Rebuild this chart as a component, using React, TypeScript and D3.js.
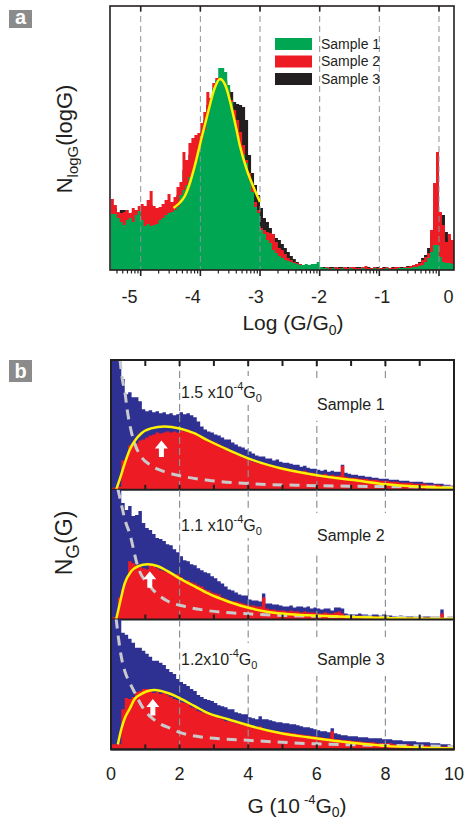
import React from "react";
import * as d3 from "d3";

const FONT = "'Liberation Sans', Arial, Helvetica, sans-serif";
const INK = "#231f20";
const GREEN = "#00a651";
const RED = "#ed1c24";
const BLACK = "#231f20";
const BLUE = "#2e3192";
const YELLOW = "#fff200";
const GRID = "#8a9299";
const DECAY = "#c9cacc";

// ---------------- Panel a : log histograms ----------------
const logBinStart = -5.5;
const logBinWidth = 0.05;
const sample1Log = [
  56, 56, 52, 48, 45, 50, 52, 48, 55, 59,
  50, 44, 46, 44, 45, 46, 50, 52, 55, 57,
  58, 60, 63, 75, 80, 85, 93, 98, 108, 120,
  130, 140, 155, 170, 182, 190, 202, 202, 198, 185,
  168, 150, 135, 123, 115, 107, 90, 78, 63, 57,
  40, 36, 30, 27, 20, 17, 14, 12, 10, 9,
  8, 7, 6, 5, 5, 6, 5, 6, 6, 8,
  3, 2, 2, 1, 2, 1, 1, 2, 1, 1,
  2, 1, 1, 1, 2, 1, 1, 1, 2, 1,
  1, 1, 2, 1, 1, 1, 2, 2, 2, 2,
  2, 3, 3, 4, 5, 8, 12, 18, 25, 25,
  13, 8, 7, 7, 6,
];
const sample2Log = [
  71, 65, 58, 57, 58, 60, 57, 62, 60, 64,
  66, 64, 70, 79, 64, 62, 63, 66, 70, 76,
  68, 73, 83, 88, 118, 110, 127, 132, 135, 137,
  147, 158, 178, 172, 187, 192, 193, 195, 190, 180,
  170, 160, 150, 138, 125, 110, 97, 85, 68, 60,
  42, 40, 38, 37, 36, 28, 22, 20, 16, 12,
  10, 8, 7, 6, 5, 4, 4, 3, 3, 2,
  3, 2, 3, 2, 2, 3, 2, 2, 3, 2,
  3, 3, 2, 2, 3, 4, 2, 2, 3, 2,
  2, 2, 3, 2, 2, 3, 3, 2, 3, 3,
  4, 5, 6, 7, 10, 13, 17, 40, 87, 118,
  58, 45, 28, 36, 30,
];
const sample3Log = [
  60, 62, 55, 60, 60, 55, 52, 58, 55, 60,
  60, 58, 62, 65, 58, 56, 58, 60, 64, 68,
  64, 66, 75, 82, 100, 105, 115, 122, 128, 130,
  140, 150, 165, 168, 178, 185, 190, 192, 188, 180,
  178, 168, 166, 165, 163, 150, 115, 97, 85, 75,
  62, 52, 48, 42, 36, 32, 30, 26, 22, 18,
  14, 11, 8, 6, 5, 4, 4, 3, 3, 3,
  3, 3, 2, 3, 3, 2, 3, 3, 2, 3,
  2, 3, 3, 3, 2, 3, 3, 2, 3, 3,
  2, 3, 3, 2, 3, 3, 3, 3, 3, 4,
  4, 5, 6, 8, 12, 15, 22, 35, 60, 70,
  57, 55, 38, 32, 30,
];
const logFitX = [-4.45, -4.35, -4.26, -4.17, -4.09, -3.98, -3.87, -3.76, -3.67, -3.57, -3.48, -3.4, -3.34, -3.22, -3.11, -3.0];
const logFitY = [62, 67, 74, 88, 105, 132, 158, 182, 191, 183, 163, 142, 125, 100, 83, 68];
const logTicks = [-5, -4, -3, -2, -1, 0];
const legendLabels = ["Sample 1", "Sample 2", "Sample 3"];

// ---------------- Panel b : linear histograms ----------------
const gBinWidth = 0.1;
const s1All = [
  130, 130, 130, 110, 95, 97, 92, 92, 88, 80,
  78, 79, 77, 78, 76, 77, 75, 76, 74, 75,
  77, 75, 76, 74, 72, 68, 63, 60, 58, 57,
  55, 54, 52, 50, 50, 47, 45, 43, 42, 40,
  38, 36, 34, 33, 33, 31, 31, 29, 30, 28,
  27, 27, 26, 25, 25, 23, 24, 22, 21, 21,
  20, 19, 20, 18, 19, 18, 18, 25, 17, 16,
  15, 15, 14, 14, 13, 13, 12, 12, 11, 11,
  11, 10, 10, 10, 9, 9, 9, 8, 8, 8,
  8, 7, 7, 7, 6, 6, 6, 5, 5, 4,
];
const s1Fit = [
  2, 2, 3, 29, 32, 44, 45, 46, 49, 50,
  52, 54, 55, 57, 56, 57, 58, 57, 58, 57,
  59, 58, 60, 58, 57, 54, 53, 51, 50, 48,
  47, 45, 43, 42, 38, 37, 35, 34, 32, 31,
  29, 28, 27, 26, 26, 25, 24, 23, 23, 22,
  22, 21, 20, 20, 19, 18, 19, 17, 17, 16,
  15, 15, 16, 14, 15, 14, 14, 24, 13, 12,
  12, 12, 11, 11, 11, 10, 10, 10, 9, 9,
  9, 8, 8, 8, 7, 7, 7, 7, 6, 6,
  6, 6, 5, 5, 5, 5, 4, 4, 4, 4,
];
const s2All = [
  130, 130, 130, 116, 109, 113, 103, 104, 108, 96,
  91, 89, 85, 81, 80, 78, 75, 74, 70, 67,
  63, 59, 58, 55, 54, 51, 49, 47, 46, 43,
  41, 38, 36, 33, 30, 29, 27, 25, 24, 24,
  20, 19, 19, 18, 26, 16, 16, 15, 15, 14,
  13, 13, 14, 12, 13, 13, 12, 13, 11, 12,
  11, 10, 11, 11, 9, 12, 12, 11, 6, 5,
  5, 5, 6, 5, 5, 4, 5, 5, 4, 5,
  4, 4, 3, 3, 4, 3, 3, 3, 3, 3,
  3, 3, 3, 3, 2, 3, 10, 1, 1, 1,
];
const s2Fit = [
  2, 2, 22, 30, 40, 58, 56, 54, 52, 51,
  50, 54, 53, 51, 49, 48, 47, 46, 44, 45,
  42, 39, 39, 37, 36, 34, 33, 30, 29, 27,
  26, 25, 22, 21, 19, 18, 18, 17, 16, 15,
  14, 14, 13, 13, 22, 11, 10, 10, 9, 9,
  9, 8, 9, 8, 8, 7, 8, 7, 7, 7,
  6, 6, 7, 6, 6, 7, 8, 6, 4, 4,
  4, 3, 4, 3, 3, 3, 3, 3, 3, 3,
  3, 2, 2, 2, 2, 2, 2, 2, 2, 2,
  2, 2, 2, 2, 2, 2, 6, 1, 1, 1,
];
const s3All = [
  130, 130, 130, 116, 114, 110, 106, 101, 101, 98,
  95, 92, 88, 88, 86, 84, 80, 77, 75, 70,
  67, 65, 63, 60, 58, 54, 52, 50, 49, 48,
  46, 44, 43, 42, 40, 40, 37, 36, 35, 35,
  32, 31, 30, 33, 30, 30, 29, 28, 27, 27,
  26, 26, 25, 25, 24, 23, 22, 22, 21, 20,
  19, 18, 18, 17, 21, 16, 15, 14, 14, 13,
  13, 13, 12, 12, 12, 11, 11, 11, 11, 10,
  10, 10, 9, 9, 9, 8, 8, 8, 8, 7,
  7, 7, 7, 6, 6, 6, 5, 5, 5, 4,
];
const s3Fit = [
  5, 5, 5, 40, 51, 50, 52, 57, 58, 60,
  60, 59, 56, 57, 55, 56, 54, 52, 50, 49,
  47, 46, 45, 42, 41, 38, 37, 36, 35, 34,
  33, 31, 30, 28, 28, 27, 26, 25, 25, 24,
  22, 21, 21, 23, 20, 19, 19, 18, 18, 17,
  17, 17, 16, 16, 15, 15, 14, 14, 13, 13,
  12, 12, 11, 11, 18, 10, 10, 9, 9, 9,
  8, 8, 8, 7, 7, 7, 7, 6, 6, 6,
  6, 6, 5, 5, 5, 5, 5, 4, 4, 4,
  4, 4, 4, 3, 3, 3, 3, 3, 3, 3,
];
const fit1G = [0.15, 0.25, 0.4, 0.55, 0.7, 0.88, 1.17, 1.56, 2.0, 2.44, 2.83, 3.4, 4.1, 5.0, 5.74, 6.5, 7.0, 8.0, 9.0, 10];
const fit1N = [0, 10, 26, 40, 49, 56, 61, 63, 61, 56, 49, 40, 30, 21, 16, 12, 10, 5.5, 3, 1.5];
const fit2G = [0.15, 0.25, 0.4, 0.59, 0.79, 1.07, 1.37, 1.66, 2.0, 2.44, 2.83, 3.41, 4.09, 4.96, 5.74, 7, 8, 10];
const fit2N = [0, 15, 36, 48, 53, 55, 53, 48, 41, 33, 26, 18, 11, 6, 4.3, 2.5, 1.5, 0.5];
const fit3G = [0.2, 0.3, 0.39, 0.54, 0.69, 0.88, 1.27, 1.66, 2.0, 2.44, 2.83, 3.41, 4.09, 4.96, 5.74, 6.5, 8, 10];
const fit3N = [5, 20, 30, 40, 50, 55, 59, 56, 51, 43, 36, 30, 23, 16, 12, 8.5, 3.5, 1];
const decay1G = [0.26, 0.33, 0.41, 0.47, 0.54, 0.69, 0.88, 1.17, 1.56, 2.0, 2.83, 4.1, 5.7, 7.0, 8.5, 10];
const decay1N = [130, 110, 96, 80, 66, 46, 33, 24, 18, 14, 9.5, 6, 4.3, 3.5, 3, 2.5];
const decay2G = [0.2, 0.3, 0.4, 0.55, 0.77, 1.14, 1.62, 2.16, 2.8, 4.1, 5.74, 7, 10];
const decay2N = [130, 115, 100, 85, 54, 33, 19, 13, 9, 5.5, 3.5, 2.8, 2];
const decay3G = [0.15, 0.22, 0.3, 0.4, 0.55, 0.7, 0.9, 1.0, 1.2, 1.4, 1.8, 2.0, 2.5, 3.0, 4.0, 5.0, 6.0, 8.0, 10];
const decay3N = [130, 110, 92, 78, 66, 56, 43, 38, 31, 26, 20, 17, 13, 11, 9, 7, 5.5, 4, 3];
const arrowG = [1.47, 1.13, 1.22];
const arrowTop = [49, 48, 50];
const peakValues = ["1.5 x10", "1.1 x10", "1.2x10"];
const sampleNames = ["Sample 1", "Sample 2", "Sample 3"];
const gTicks = [0, 2, 4, 6, 8, 10];
const gMinorTicks = [1, 2, 3, 4, 5, 6, 7, 8, 9];
const gGrid = [2, 4, 6, 8];

function stepArea(values: number[], start: number, width: number, x: any, y: any) {
  const pts = values.map((v, i) => ({ x: start + i * width, v }));
  pts.push({ x: start + values.length * width, v: values[values.length - 1] });
  return d3
    .area<any>()
    .x((d) => x(d.x))
    .y0(y(0))
    .y1((d) => y(d.v))
    .curve(d3.curveStepAfter)(pts) as string;
}

function curvePath(xs: number[], ys: number[], x: any, y: any) {
  return d3
    .line<number>()
    .x((d, i) => x(xs[i]))
    .y((d) => y(d))
    .curve(d3.curveMonotoneX)(ys) as string;
}

function PanelLabel({ x, y, h, label }: { x: number; y: number; h: number; label: string }) {
  return (
    <g>
      <rect x={x} y={y} width={23} height={h} fill="#8b8b8b" />
      <text x={x + 11.5} y={y + h - 4} textAnchor="middle" fill="#fff" fontWeight="bold" fontSize={20} fontFamily={FONT}>
        {label}
      </text>
    </g>
  );
}

function PanelA() {
  const left = 110, right = 454, top = 6, bottom = 270;
  const x = d3.scaleLinear().domain([-5, 0]).range([140.7, 439]);
  const y = d3.scaleLinear().domain([0, 264]).range([bottom, top]);
  const labelX = d3.scaleLinear().domain([-5, 0]).range([137.5, 453.5]);
  const minor: number[] = [];
  d3.range(-6, 0).forEach((n) => {
    d3.range(2, 10).forEach((k) => {
      const v = n + Math.log10(k);
      if (v >= -5.52 && v <= 0.25) minor.push(v);
    });
  });
  const series = [
    { vals: sample3Log, color: BLACK },
    { vals: sample2Log, color: RED },
    { vals: sample1Log, color: GREEN },
  ];
  const legendColors = [GREEN, RED, BLACK];
  return (
    <g>
      <defs>
        <clipPath id="clipA">
          <rect x={left} y={top} width={right - left} height={bottom - top} />
        </clipPath>
      </defs>
      <g clipPath="url(#clipA)">
        {series.map((s, i) => (
          <path key={i} d={stepArea(s.vals, logBinStart, logBinWidth, x, y)} fill={s.color} />
        ))}
        {logTicks.map((t) => (
          <line key={t} x1={x(t)} x2={x(t)} y1={top} y2={bottom} stroke={GRID} strokeWidth={1} strokeDasharray="6,4" />
        ))}
        <path d={curvePath(logFitX, logFitY, x, y)} fill="none" stroke={YELLOW} strokeWidth={2.5} />
      </g>
      <rect x={left} y={top} width={right - left} height={bottom - top} fill="none" stroke={INK} strokeWidth={1.6} />
      {logTicks.map((t) => (
        <g key={t}>
          <line x1={x(t)} x2={x(t)} y1={top} y2={top + 5.5} stroke={INK} strokeWidth={1.6} />
          <line x1={x(t)} x2={x(t)} y1={bottom} y2={bottom + 6} stroke={INK} strokeWidth={1.6} />
          <text x={labelX(t)} y={303} textAnchor="end" fontSize={18} fontFamily={FONT} fill={INK}>
            {t === 0 ? "0" : `-${Math.abs(t)}`}
          </text>
        </g>
      ))}
      {minor.map((t, i) => (
        <line key={i} x1={x(t)} x2={x(t)} y1={bottom} y2={bottom + 3.5} stroke={INK} strokeWidth={1.2} />
      ))}
      {legendLabels.map((l, i) => (
        <g key={l}>
          <rect x={275} y={38 + i * 17.5} width={37} height={12} fill={legendColors[i]} />
          <text x={321} y={48.5 + i * 17.5} fontSize={14} fontFamily={FONT} fill={INK}>
            {l}
          </text>
        </g>
      ))}
      <text x={293} y={330} textAnchor="middle" fontSize={21} fontFamily={FONT} fill={INK}>
        Log (G/G<tspan dy={5} fontSize={14}>0</tspan>
        <tspan dy={-5}>)</tspan>
      </text>
      <text transform="translate(72,139) rotate(-90)" textAnchor="middle" fontSize={22} fontFamily={FONT} fill={INK}>
        N<tspan dy={6} fontSize={15}>logG</tspan>
        <tspan dy={-6}>(logG)</tspan>
      </text>
      <PanelLabel x={9} y={10} h={18} label="a" />
    </g>
  );
}

function PanelB() {
  const left = 111, right = 454;
  const topAll = 360, subH = 129.8;
  const x = d3.scaleLinear().domain([0, 10]).range([left, right]);
  const subs = [
    { all: s1All, fit: s1Fit, fG: fit1G, fN: fit1N, dG: decay1G, dN: decay1N, valueY: 398, nameY: 409.7 },
    { all: s2All, fit: s2Fit, fG: fit2G, fN: fit2N, dG: decay2G, dN: decay2N, valueY: 531, nameY: 541 },
    { all: s3All, fit: s3Fit, fG: fit3G, fN: fit3N, dG: decay3G, dN: decay3N, valueY: 665, nameY: 665 },
  ];
  const bottomAll = topAll + subH * 3;
  return (
    <g>
      {subs.map((s, i) => {
        const top = topAll + subH * i;
        const bottom = top + subH;
        const y = d3.scaleLinear().domain([0, 129]).range([bottom, top]);
        const ax = x(arrowG[i]);
        const ay = y(arrowTop[i]);
        const arrow = `M${ax},${ay} L${ax + 6.5},${ay + 8} L${ax + 2.5},${ay + 8} L${ax + 2.5},${ay + 16.5} L${ax - 2.5},${ay + 16.5} L${ax - 2.5},${ay + 8} L${ax - 6.5},${ay + 8} Z`;
        return (
          <g key={i}>
            <defs>
              <clipPath id={`clipB${i}`}>
                <rect x={left} y={top} width={right - left} height={subH} />
              </clipPath>
            </defs>
            <g clipPath={`url(#clipB${i})`}>
              <path d={stepArea(s.all, 0, gBinWidth, x, y)} fill={BLUE} />
              <path d={stepArea(s.fit, 0, gBinWidth, x, y)} fill={RED} />
              {gGrid.map((g) => (
                <line key={g} x1={x(g)} x2={x(g)} y1={top} y2={bottom} stroke={GRID} strokeWidth={1.2} strokeDasharray="7,4" />
              ))}
              <rect x={181} y={s.valueY - 22} width={88} height={29} fill="#fff" />
              <rect x={311} y={s.nameY - 28} width={82} height={39} fill="#fff" />
              <path d={curvePath(s.dG, s.dN, x, y)} fill="none" stroke={DECAY} strokeWidth={3} strokeDasharray="10,7" />
              <path d={curvePath(s.fG, s.fN, x, y)} fill="none" stroke={YELLOW} strokeWidth={2.5} />
              <path d={arrow} fill="#fff" />
            </g>
            {gMinorTicks.map((t) => (
              <line key={t} x1={x(t)} x2={x(t)} y1={bottom} y2={bottom - 5} stroke={INK} strokeWidth={2} />
            ))}
            {i === 0 &&
              gMinorTicks.map((t) => (
                <line key={"t" + t} x1={x(t)} x2={x(t)} y1={top} y2={top + 6} stroke={INK} strokeWidth={2} />
              ))}
            <line x1={left} x2={right} y1={bottom} y2={bottom} stroke={INK} strokeWidth={2} />
            <text x={181} y={s.valueY} fontSize={16} fontFamily={FONT} fill={INK}>
              {peakValues[i]}
              <tspan dy={-8} fontSize={11}>-4</tspan>
              <tspan dy={8}>G</tspan>
              <tspan dy={4} fontSize={11}>0</tspan>
            </text>
            <text x={317} y={s.nameY} fontSize={16} fontFamily={FONT} fill={INK}>
              {sampleNames[i]}
            </text>
          </g>
        );
      })}
      <rect x={left} y={topAll} width={right - left} height={bottomAll - topAll} fill="none" stroke={INK} strokeWidth={2} />
      {gTicks.map((t) => (
        <text key={t} x={x(t)} y={780} textAnchor="middle" fontSize={18} fontFamily={FONT} fill={INK}>
          {t}
        </text>
      ))}
      <text x={297} y={813} textAnchor="middle" fontSize={21} fontFamily={FONT} fill={INK}>
        G (10<tspan dx={4} dy={-9} fontSize={13}>-4</tspan>
        <tspan dy={9}>G</tspan>
        <tspan dy={4} fontSize={14}>0</tspan>
        <tspan dy={-4}>)</tspan>
      </text>
      <text transform="translate(72,543) rotate(-90)" textAnchor="middle" fontSize={23} fontFamily={FONT} fill={INK}>
        N<tspan dy={7} fontSize={19}>G</tspan>
        <tspan dy={-7}>(G)</tspan>
      </text>
      <PanelLabel x={9} y={360} h={22} label="b" />
    </g>
  );
}

export default function App() {
  return (
    <svg
      width={465}
      height={821}
      viewBox="0 0 465 821"
      style={{ position: "absolute", left: 0, top: 0, background: "#fff" }}
    >
      <rect x={0} y={0} width={465} height={821} fill="#fff" />
      <PanelA />
      <PanelB />
    </svg>
  );
}
